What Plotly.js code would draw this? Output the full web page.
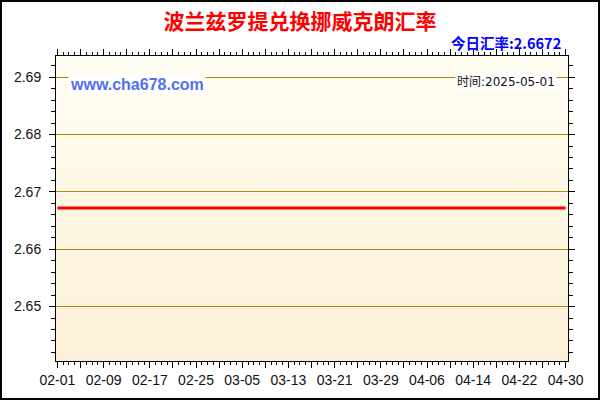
<!DOCTYPE html>
<html>
<head>
<meta charset="utf-8">
<script src="https://cdn.plot.ly/plotly-3.0.1.min.js"></script>
<style>
  body { margin: 0; background: #fff; }
  #plot { width: 600px; height: 400px; box-sizing: border-box; border: 2px solid #000; }
</style>
</head>
<body>
<div id="plot"></div>
<script>
// PLN -> NOK daily rate, 2025-02-01 .. 2025-04-30
var startDate = "2025-02-01";
var endDate = "2025-04-30";
var rates = [
  2.6672, 2.6672, 2.6672, 2.6672, 2.6672, 2.6672, 2.6672, 2.6672, 2.6672, 2.6672,
  2.6672, 2.6672, 2.6672, 2.6672, 2.6672, 2.6672, 2.6672, 2.6672, 2.6672, 2.6672,
  2.6672, 2.6672, 2.6672, 2.6672, 2.6672, 2.6672, 2.6672, 2.6672, 2.6672, 2.6672,
  2.6672, 2.6672, 2.6672, 2.6672, 2.6672, 2.6672, 2.6672, 2.6672, 2.6672, 2.6672,
  2.6672, 2.6672, 2.6672, 2.6672, 2.6672, 2.6672, 2.6672, 2.6672, 2.6672, 2.6672,
  2.6672, 2.6672, 2.6672, 2.6672, 2.6672, 2.6672, 2.6672, 2.6672, 2.6672, 2.6672,
  2.6672, 2.6672, 2.6672, 2.6672, 2.6672, 2.6672, 2.6672, 2.6672, 2.6672, 2.6672,
  2.6672, 2.6672, 2.6672, 2.6672, 2.6672, 2.6672, 2.6672, 2.6672, 2.6672, 2.6672,
  2.6672, 2.6672, 2.6672, 2.6672, 2.6672, 2.6672, 2.6672, 2.6672, 2.6672
];
var todayRate = "2.6672";
var updated = "2025-05-01";

// build the day list for the x axis
var DAY = 86400000;
var t0 = Date.parse(startDate + "T00:00:00Z");
var dates = [];
for (var i = 0; i < rates.length; i++) {
  dates.push(new Date(t0 + i * DAY).toISOString().slice(0, 10));
}

// major ticks every 4 days, label every 8
var tickvals = [], ticktext = [];
for (var j = 0; j < dates.length; j += 4) {
  tickvals.push(dates[j]);
  ticktext.push(j % 8 === 0 ? dates[j].slice(5) : "");
}

var bg = "data:image/svg+xml;utf8," + encodeURIComponent(
  '<svg xmlns="http://www.w3.org/2000/svg" width="10" height="100" preserveAspectRatio="none">' +
  '<defs><linearGradient id="g" x1="0" y1="0" x2="0" y2="1">' +
  '<stop offset="0" stop-color="#FFFDF2"/><stop offset="1" stop-color="#FDF0D8"/>' +
  '</linearGradient></defs><rect width="10" height="100" fill="url(#g)"/></svg>');

var trace = {
  x: dates,
  y: rates,
  type: "scatter",
  mode: "lines",
  line: { color: "#FF0000", width: 3 },
  hoverinfo: "x+y"
};

var layout = {
  width: 596,
  height: 396,
  margin: { l: 54, r: 30, t: 54, b: 37 },
  paper_bgcolor: "#FFFFFF",
  plot_bgcolor: "rgba(0,0,0,0)",
  showlegend: false,
  font: { family: "Liberation Sans, Arial, sans-serif", size: 14, color: "#111" },
  title: {
    text: "<b>波兰兹罗提兑换挪威克朗汇率</b>",
    font: { family: "Noto Sans CJK SC", size: 21, color: "#FF0000" },
    x: 0.5, xref: "container", xanchor: "center",
    y: 1 - 20 / 396, yref: "container", yanchor: "middle"
  },
  xaxis: {
    type: "date",
    range: ["2025-01-31 18:00", "2025-04-30 10:00"],
    tickmode: "array",
    tickvals: tickvals,
    ticktext: ticktext,
    ticks: "outside",
    ticklen: 6,
    tickcolor: "#000",
    minor: { dtick: DAY, ticks: "outside", ticklen: 3, tickcolor: "#000" },
    showgrid: false,
    showline: true,
    linecolor: "#000",
    linewidth: 1,
    mirror: "allticks",
    zeroline: false,
    fixedrange: true
  },
  yaxis: {
    range: [2.6405, 2.6937],
    dtick: 0.01,
    tick0: 2.65,
    tickformat: ".2f",
    ticks: "outside",
    ticklen: 6,
    tickcolor: "#000",
    ticklabelstandoff: 5,
    minor: { dtick: 0.002, ticks: "outside", ticklen: 4, tickcolor: "#000", showgrid: false },
    showgrid: true,
    gridcolor: "#B8860B",
    gridwidth: 1,
    showline: true,
    linecolor: "#000",
    linewidth: 1,
    mirror: "allticks",
    zeroline: false,
    fixedrange: true
  },
  images: [{
    source: bg,
    xref: "paper", yref: "paper",
    x: 0, y: 1, sizex: 1, sizey: 1,
    sizing: "stretch", layer: "below"
  }],
  annotations: [
    {
      text: "<b>今日汇率:" + todayRate + "</b>",
      xref: "paper", yref: "paper",
      x: 0.99, y: 1.043, xanchor: "right", yanchor: "middle",
      showarrow: false,
      font: { family: "Noto Sans CJK SC", size: 14.5, color: "#0000FF" }
    },
    {
      text: "<b>www.cha678.com</b>",
      xref: "paper", yref: "paper",
      x: 0.023, y: 0.908, xanchor: "left", yanchor: "middle",
      showarrow: false, bgcolor: "#FFFFFF", borderpad: 1,
      font: { family: "Liberation Sans, Arial, sans-serif", size: 16, color: "#5470EE" }
    },
    {
      text: "时间:" + updated,
      xref: "paper", yref: "paper",
      x: 0.978, y: 0.915, xanchor: "right", yanchor: "middle",
      showarrow: false, bgcolor: "#FFFFFF", borderpad: 1,
      font: { family: "DejaVu Sans, Noto Sans CJK SC", size: 12, color: "#111" }
    }
  ]
};

Plotly.newPlot("plot", [trace], layout, { displayModeBar: false, staticPlot: true });
</script>
</body>
</html>
